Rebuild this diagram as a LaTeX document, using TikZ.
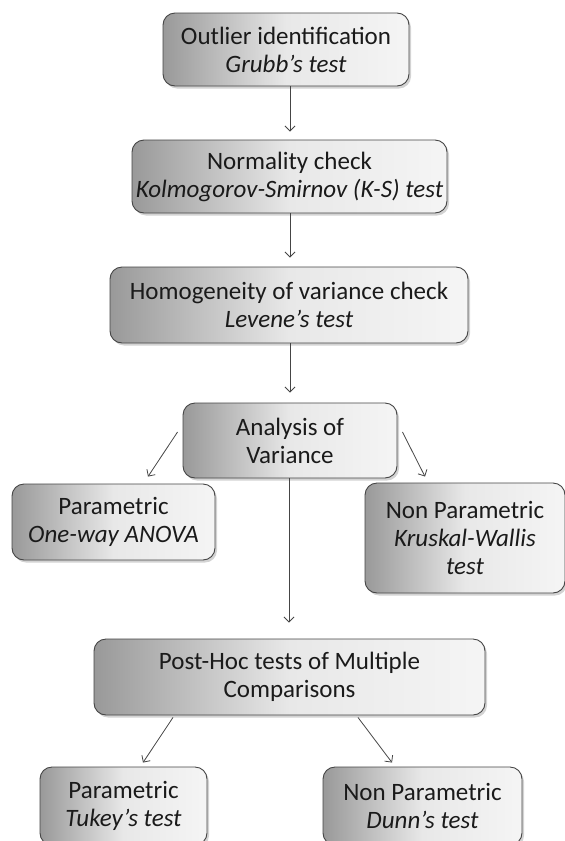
\documentclass[tikz,border=0pt]{standalone}
\usepackage{fontspec}
\setmainfont{Carlito}
\usepackage{tikz}
\usetikzlibrary{arrows.meta,shadows,positioning}

\definecolor{edgegray}{HTML}{454545}
\definecolor{textgray}{HTML}{1A1A1A}

\begin{document}
\begin{tikzpicture}[x=1pt,y=-1pt]
                \tikzstyle{box}=[draw=edgegray, line width=0.9pt, rounded corners=12pt,
                    left color=black!40, right color=black!4, middle color=black!9,
                    drop shadow={shadow xshift=2pt, shadow yshift=-2.5pt, opacity=0.35},
                    align=center, text=textgray, inner sep=0pt,
                    font=\fontsize{25}{28}\selectfont]
                \tikzstyle{arr}=[draw=edgegray, line width=0.8pt,
                    -{Straight Barb[length=5pt,width=10pt]}]
                \useasboundingbox (0,0) rectangle (565,841);
                % steps
                \node [box, minimum width=246pt, minimum height=73pt] (outlier) at (286,49.5)
                    {Outlier identification\\ \textit{Grubb’s test}};
                \node [box, minimum width=315pt, minimum height=73pt] (normal) at (289.5,176.5)
                    {Normality check\\ \textit{Kolmogorov-Smirnov (K-S) test}};
                \node [box, minimum width=358pt, minimum height=76pt] (homog) at (289,305)
                    {Homogeneity of variance check\\ \textit{Levene's test}};
                \node [box, minimum width=214pt, minimum height=75pt] (anova) at (290,440.5)
                    {Analysis of\\ Variance};
                \node [box, minimum width=203pt, minimum height=76pt] (param) at (113.5,522)
                    {Parametric\\ \textit{One-way ANOVA}};
                \node [box, minimum width=200pt, minimum height=110pt] (nonparam) at (465,538)
                    {Non Parametric\\ \textit{Kruskal-Wallis}\\ \textit{test}};
                \node [box, minimum width=391pt, minimum height=76pt] (posthoc) at (289.5,677)
                    {Post-Hoc tests of Multiple\\ Comparisons};
                \node [box, minimum width=167pt, minimum height=78pt] (tukey) at (123.5,806)
                    {Parametric\\ \textit{Tukey’s test}};
                \node [box, minimum width=199pt, minimum height=78pt] (dunn) at (422.5,806)
                    {Non Parametric\\ \textit{Dunn’s test}};
                % arrows
                \draw [arr] ([xshift=4pt]outlier.south) -- ([xshift=0.5pt,yshift=8pt]normal.north);
                \draw [arr] ([xshift=0.5pt]normal.south) -- ([xshift=1pt,yshift=9pt]homog.north);
                \draw [arr] ([xshift=1pt]homog.south) -- ([yshift=10pt]anova.north);
                \draw [arr] ([xshift=-5pt,yshift=8.5pt]anova.west) -- ([xshift=34.5pt,yshift=7pt]param.north);
                \draw [arr] ([xshift=5pt,yshift=8.5pt]anova.east) -- ([xshift=-40pt,yshift=6pt]nonparam.north);
                \draw [arr] ([xshift=-1pt]anova.south) -- ([xshift=-0.5pt,yshift=16pt]posthoc.north);
                \draw [arr] ([xshift=-116.5pt,yshift=-2pt]posthoc.south) -- ([xshift=19.5pt,yshift=4pt]tukey.north);
                \draw [arr] ([xshift=68.5pt,yshift=-2pt]posthoc.south) -- ([xshift=-30.5pt,yshift=4pt]dunn.north);
            \end{tikzpicture}
\end{document}
